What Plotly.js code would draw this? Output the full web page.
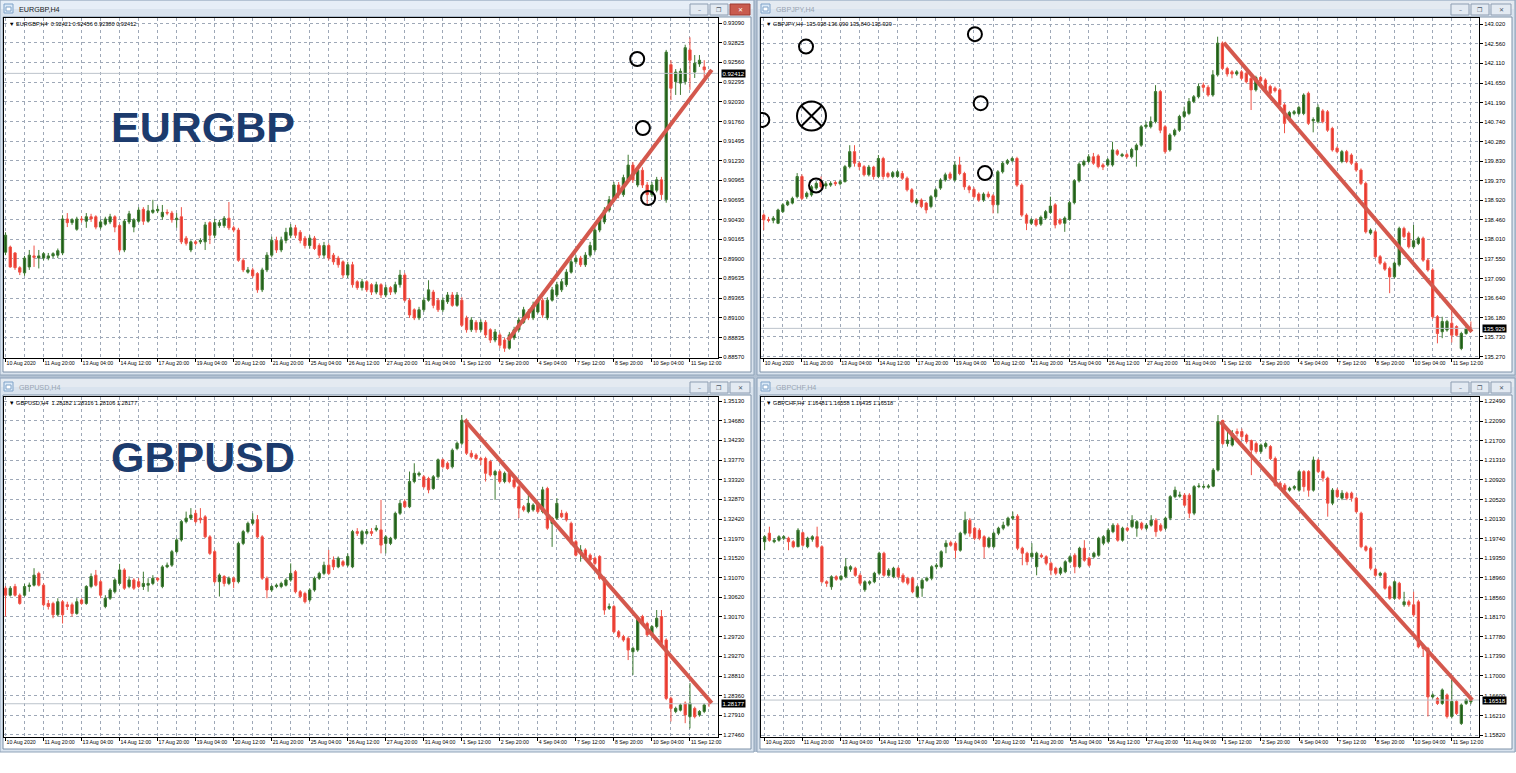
<!DOCTYPE html>
<html>
<head>
<meta charset="utf-8">
<script src="https://cdn.plot.ly/plotly-3.0.1.min.js"></script>
<style>
html,body{margin:0;padding:0;background:#fff;}
#chart{width:1516px;height:773px;}
</style>
</head>
<body>
<div id="chart"></div>
<script>
// ---------------- DATA ----------------
const timeLabels = ['10 Aug 2020','11 Aug 20:00','13 Aug 04:00','14 Aug 12:00','17 Aug 20:00','19 Aug 04:00','20 Aug 12:00','21 Aug 20:00','25 Aug 04:00','26 Aug 12:00','27 Aug 20:00','31 Aug 04:00','1 Sep 12:00','2 Sep 20:00','4 Sep 04:00','7 Sep 12:00','8 Sep 20:00','10 Sep 04:00','11 Sep 12:00'];
const labelBars = [0,8,16,24,32,40,48,56,64,72,80,88,96,104,112,120,128,136,144];

// EURGBP H4
const eurgbpOpen = [
0.8999,0.9006,0.8998,0.8978,0.8971,0.8979,0.8994,0.8991,0.8991,0.8991,
0.8994,0.8995,0.8998,0.9044,0.9039,0.9030,0.9044,0.9041,0.9047,0.9047,
0.9033,0.9037,0.9040,0.9047,0.9035,0.9002,0.9040,0.9033,0.9041,0.9057,
0.9041,0.9053,0.9055,0.9047,0.9053,0.9052,0.9043,0.9047,0.9018,0.9002,
0.9013,0.9013,0.9013,0.9039,0.9022,0.9035,0.9035,0.9045,0.9032,0.9029,
0.8988,0.8972,0.8975,0.8970,0.8948,0.8975,0.8995,0.9015,0.9002,0.9015,
0.9022,0.9032,0.9026,0.9018,0.9008,0.9018,0.9008,0.8995,0.9008,0.8995,
0.8991,0.8986,0.8968,0.8982,0.8959,0.8951,0.8959,0.8955,0.8945,0.8955,
0.8941,0.8951,0.8945,0.8955,0.8968,0.8934,0.8921,0.8910,0.8921,0.8934,
0.8945,0.8934,0.8921,0.8932,0.8941,0.8927,0.8934,0.8910,0.8894,0.8904,
0.8894,0.8904,0.8894,0.8880,0.8887,0.8880,0.8869,0.8883,0.8894,0.8904,
0.8918,0.8910,0.8918,0.8934,0.8910,0.8934,0.8941,0.8948,0.8955,0.8972,
0.8986,0.8991,0.8982,0.8995,0.9002,0.9029,0.9040,0.9056,0.9070,0.9090,
0.9077,0.9097,0.9117,0.9090,0.9110,0.9090,0.9077,0.9083,0.9097,0.9070,
0.9253,0.9230,0.9228,0.9230,0.9273,0.9243,0.9254,0.9250,0.92421];
const eurgbpHigh = [
0.9026,0.9008,0.8999,0.8980,0.8994,0.9002,0.9008,0.9002,0.8999,0.8998,
0.8999,0.9004,0.9049,0.9052,0.9045,0.9047,0.9048,0.9052,0.9051,0.9049,
0.9043,0.9047,0.9051,0.9049,0.9037,0.9044,0.9055,0.9045,0.9060,0.9060,
0.9063,0.9070,0.9062,0.9063,0.9057,0.9055,0.9052,0.9060,0.9021,0.9015,
0.9015,0.9018,0.9040,0.9041,0.9044,0.9043,0.9048,0.9067,0.9035,0.9032,
0.8991,0.8979,0.8978,0.8972,0.8978,0.8999,0.9020,0.9020,0.9020,0.9032,
0.9037,0.9036,0.9029,0.9021,0.9022,0.9021,0.9011,0.9013,0.9011,0.8998,
0.8994,0.8988,0.8986,0.8986,0.8961,0.8963,0.8961,0.8957,0.8959,0.8957,
0.8955,0.8953,0.8959,0.8975,0.8971,0.8937,0.8923,0.8925,0.8938,0.8961,
0.8948,0.8937,0.8938,0.8945,0.8945,0.8945,0.8938,0.8913,0.8911,0.8907,
0.8908,0.8907,0.8896,0.8895,0.8890,0.8883,0.8891,0.8898,0.8911,0.8925,
0.8922,0.8932,0.8938,0.8937,0.8938,0.8952,0.8959,0.8963,0.8976,0.8990,
0.8995,0.8994,0.8999,0.9013,0.9033,0.9047,0.9060,0.9075,0.9094,0.9094,
0.9104,0.9131,0.9121,0.9114,0.9114,0.9094,0.9094,0.9101,0.9101,0.9273,
0.9259,0.9247,0.9248,0.9280,0.9290,0.9266,0.9266,0.9259,0.92456];
const eurgbpLow = [
0.8995,0.8978,0.8975,0.8968,0.8967,0.8975,0.8979,0.8977,0.8988,0.8988,
0.8991,0.8991,0.8995,0.9033,0.9036,0.9028,0.9039,0.9032,0.9040,0.9030,
0.9030,0.9035,0.9037,0.9026,0.8999,0.8999,0.9037,0.9026,0.9039,0.9036,
0.9039,0.9051,0.9052,0.9043,0.9049,0.9039,0.9032,0.9010,0.9008,0.8999,
0.9008,0.9010,0.9002,0.9010,0.9018,0.9032,0.9032,0.9029,0.9026,0.8986,
0.8972,0.8970,0.8964,0.8944,0.8945,0.8972,0.8992,0.8998,0.8999,0.9011,
0.9018,0.9018,0.9011,0.9004,0.9004,0.9002,0.8991,0.8991,0.8988,0.8982,
0.8978,0.8964,0.8964,0.8951,0.8948,0.8947,0.8945,0.8941,0.8942,0.8937,
0.8938,0.8941,0.8942,0.8951,0.8932,0.8910,0.8907,0.8907,0.8918,0.8932,
0.8923,0.8918,0.8918,0.8929,0.8925,0.8925,0.8898,0.8890,0.8891,0.8890,
0.8891,0.8883,0.8876,0.8877,0.8869,0.8864,0.8867,0.8880,0.8891,0.8902,
0.8907,0.8907,0.8916,0.8910,0.8907,0.8932,0.8938,0.8945,0.8952,0.8970,
0.8983,0.8979,0.8979,0.8992,0.8999,0.9026,0.9037,0.9053,0.9067,0.9072,
0.9074,0.9094,0.9093,0.9087,0.9086,0.9063,0.9074,0.9080,0.9070,0.9066,
0.9205,0.9212,0.9212,0.9226,0.9219,0.9235,0.9250,0.9236,0.92380];
const eurgbpClose = [
0.9022,0.8979,0.8978,0.8972,0.8991,0.8995,0.8992,0.8994,0.8997,0.8994,
0.8997,0.9001,0.9044,0.9039,0.9043,0.9044,0.9043,0.9047,0.9044,0.9033,
0.9040,0.9044,0.9047,0.9033,0.9002,0.9041,0.9051,0.9043,0.9056,0.9041,
0.9055,0.9056,0.9057,0.9053,0.9052,0.9043,0.9045,0.9013,0.9011,0.9013,
0.9011,0.9015,0.9036,0.9022,0.9039,0.9039,0.9045,0.9032,0.9029,0.8988,
0.8975,0.8975,0.8967,0.8948,0.8975,0.8995,0.9015,0.9002,0.9015,0.9026,
0.9032,0.9022,0.9015,0.9008,0.9018,0.9004,0.8995,0.9008,0.8991,0.8986,
0.8982,0.8968,0.8982,0.8955,0.8951,0.8959,0.8948,0.8945,0.8955,0.8941,
0.8951,0.8945,0.8955,0.8968,0.8934,0.8914,0.8910,0.8921,0.8934,0.8948,
0.8927,0.8921,0.8934,0.8941,0.8927,0.8941,0.8900,0.8894,0.8907,0.8894,
0.8904,0.8887,0.8880,0.8891,0.8873,0.8869,0.8887,0.8894,0.8907,0.8921,
0.8910,0.8927,0.8934,0.8914,0.8934,0.8948,0.8955,0.8959,0.8972,0.8986,
0.8991,0.8982,0.8995,0.9008,0.9029,0.9043,0.9056,0.9070,0.9090,0.9077,
0.9100,0.9117,0.9097,0.9110,0.9090,0.9077,0.9090,0.9097,0.9077,0.9270,
0.9221,0.9243,0.9244,0.9276,0.9259,0.9255,0.9259,0.9246,0.92412];

// GBPJPY H4
const gbpjpyOpen = [
138.57,138.46,138.45,138.38,138.65,138.81,138.85,139.00,139.47,139.00,
139.04,139.20,139.35,139.25,139.27,139.33,139.30,139.35,139.70,140.05,
139.78,139.70,139.51,139.69,139.47,139.89,139.54,139.47,139.47,139.54,
139.43,139.16,138.85,138.92,138.85,138.77,139.00,139.20,139.39,139.53,
139.39,139.74,139.54,139.23,139.17,139.06,138.92,139.06,139.02,138.81,
139.58,139.78,139.84,139.89,139.27,138.57,138.38,138.46,138.36,138.50,
138.63,138.81,138.46,138.38,138.47,138.86,139.37,139.74,139.82,139.93,
139.95,139.74,139.74,139.74,140.07,139.95,139.98,139.93,140.09,140.20,
140.63,140.63,140.75,141.45,140.63,140.09,140.44,140.55,140.87,140.94,
141.22,141.33,141.60,141.55,141.37,141.84,142.58,141.99,141.91,141.86,
141.91,141.88,141.76,141.49,141.78,141.72,141.57,141.53,141.49,141.14,
140.79,140.94,140.94,140.94,141.41,140.77,140.75,141.00,140.98,140.59,
140.13,139.82,140.05,139.97,139.78,139.62,139.31,138.15,138.18,137.60,
137.45,137.33,137.13,137.41,138.26,138.15,137.83,137.91,138.03,137.52,
137.29,136.20,135.85,135.89,136.05,135.97,135.46,135.81,135.938];
const gbpjpyHigh = [
138.61,138.53,138.55,138.72,138.85,138.92,139.00,139.55,139.52,139.12,
139.27,139.36,139.47,139.36,139.36,139.37,139.40,139.74,140.20,140.20,
139.82,139.74,139.74,139.72,139.97,139.93,139.58,139.60,139.62,139.60,
139.47,139.20,138.96,138.96,138.88,139.04,139.20,139.43,139.56,139.58,
139.82,139.93,139.58,139.27,139.22,139.10,139.10,139.12,139.06,139.62,
139.82,139.88,139.93,139.93,139.31,138.61,138.50,138.50,138.56,138.69,
139.00,138.85,138.50,138.54,138.90,139.41,139.80,139.86,139.99,140.02,
139.99,139.78,139.90,140.28,140.11,140.02,140.02,140.14,140.24,140.67,
140.75,140.87,141.60,141.49,140.67,140.48,140.59,140.91,141.10,141.30,
141.37,141.64,141.66,141.60,141.95,142.73,142.62,142.03,141.95,141.95,
141.95,141.92,141.80,141.82,141.82,141.76,141.61,141.57,141.53,141.18,
141.00,141.02,141.12,141.41,141.45,140.85,141.15,141.04,141.02,140.63,
140.17,140.09,140.09,140.01,139.82,139.66,139.35,138.26,138.22,137.64,
137.49,137.37,137.49,138.30,138.30,138.19,138.34,138.07,138.07,137.56,
137.33,136.24,136.20,136.13,136.45,136.00,135.85,135.97,136.090];
const gbpjpyLow = [
138.22,138.40,138.38,138.36,138.62,138.78,138.82,138.96,138.92,138.95,
139.00,139.16,139.18,139.18,139.23,139.25,139.26,139.33,139.66,139.70,
139.62,139.47,139.47,139.40,139.43,139.40,139.43,139.43,139.44,139.39,
139.12,138.85,138.81,138.73,138.61,138.73,138.96,139.16,139.35,139.39,
139.35,139.50,139.16,139.08,138.96,138.88,138.88,138.96,138.61,138.61,
139.54,139.74,139.80,139.23,138.53,138.22,138.34,138.30,138.32,138.46,
138.60,138.26,138.34,138.18,138.44,138.82,139.33,139.70,139.78,139.74,
139.66,139.62,139.70,139.70,139.95,139.92,139.89,139.89,139.70,140.16,
140.59,140.59,140.71,140.48,140.00,140.05,140.40,140.51,140.83,140.90,
141.18,141.29,141.45,141.33,141.33,141.80,141.95,141.80,141.76,141.82,
141.72,141.64,141.02,141.45,141.64,141.41,141.37,141.43,141.10,140.48,
140.75,140.90,140.90,140.90,140.67,140.50,140.71,140.71,140.51,140.05,
140.01,139.78,139.78,139.74,139.58,139.27,138.14,138.11,137.56,137.41,
137.27,136.75,137.09,137.37,138.03,137.79,137.79,137.87,137.48,137.25,
136.15,135.58,135.70,135.85,135.60,135.74,135.42,135.78,135.840];
const gbpjpyClose = [
138.46,138.45,138.50,138.69,138.81,138.88,138.96,139.47,138.96,139.08,
139.23,139.31,139.23,139.30,139.31,139.30,139.35,139.70,140.05,139.78,
139.70,139.51,139.69,139.47,139.89,139.47,139.47,139.56,139.58,139.43,
139.16,138.88,138.92,138.77,138.69,139.00,139.16,139.39,139.51,139.43,
139.74,139.54,139.23,139.16,139.00,138.92,139.06,139.00,138.81,139.58,
139.78,139.84,139.89,139.27,138.57,138.38,138.46,138.34,138.52,138.65,
138.78,138.34,138.38,138.50,138.86,139.37,139.76,139.82,139.93,139.78,
139.70,139.69,139.86,140.09,139.99,139.98,139.93,140.10,140.20,140.63,
140.67,140.75,141.45,140.55,140.05,140.44,140.55,140.87,140.98,141.22,
141.33,141.57,141.55,141.37,141.84,142.58,141.99,141.86,141.86,141.91,
141.76,141.68,141.49,141.78,141.70,141.45,141.41,141.47,141.14,140.71,
140.96,140.98,141.08,141.37,140.71,140.80,141.08,140.75,140.55,140.09,
140.05,140.05,139.82,139.78,139.62,139.31,138.18,138.22,137.60,137.45,
137.31,137.13,137.45,138.26,138.07,137.83,137.97,138.03,137.52,137.29,
136.20,135.81,136.09,136.09,135.77,135.77,135.81,135.93,135.929];

// GBPUSD H4
const gbpusdOpen = [
1.3083,1.3067,1.3087,1.3067,1.3067,1.3087,1.3090,1.3117,1.3090,1.3048,
1.3048,1.3022,1.3052,1.3045,1.3045,1.3025,1.3056,1.3048,1.3087,1.3113,
1.3098,1.3041,1.3060,1.3075,1.3094,1.3125,1.3087,1.3102,1.3098,1.3087,
1.3090,1.3094,1.3106,1.3087,1.3132,1.3136,1.3167,1.3194,1.3236,1.3244,
1.3255,1.3244,1.3247,1.3201,1.3167,1.3098,1.3110,1.3094,1.3106,1.3098,
1.3186,1.3213,1.3232,1.3240,1.3201,1.3106,1.3079,1.3087,1.3087,1.3090,
1.3102,1.3121,1.3075,1.3071,1.3056,1.3079,1.3106,1.3117,1.3136,1.3148,
1.3132,1.3144,1.3136,1.3132,1.3213,1.3186,1.3209,1.3213,1.3217,1.3217,
1.3186,1.3186,1.3198,1.3255,1.3282,1.3270,1.3328,1.3343,1.3339,1.3335,
1.3312,1.3339,1.3378,1.3370,1.3362,1.3404,1.3416,1.3469,1.3393,1.3389,
1.3381,1.3381,1.3374,1.3343,1.3351,1.3328,1.3347,1.3332,1.3316,1.3270,
1.3259,1.3263,1.3274,1.3259,1.3312,1.3232,1.3244,1.3255,1.3255,1.3232,
1.3190,1.3163,1.3171,1.3159,1.3152,1.3156,1.3106,1.3037,1.3041,1.2983,
1.2972,1.2968,1.2937,1.2941,1.3018,1.3002,1.2976,1.2995,1.3018,1.2964,
1.2830,1.2800,1.2803,1.2819,1.2788,1.2807,1.2792,1.2800,1.28182];
const gbpusdHigh = [
1.3088,1.3088,1.3093,1.3071,1.3093,1.3096,1.3129,1.3121,1.3094,1.3056,
1.3052,1.3060,1.3056,1.3052,1.3050,1.3060,1.3060,1.3090,1.3117,1.3125,
1.3102,1.3067,1.3083,1.3106,1.3139,1.3129,1.3110,1.3106,1.3106,1.3121,
1.3106,1.3113,1.3108,1.3136,1.3142,1.3171,1.3198,1.3240,1.3259,1.3267,
1.3263,1.3267,1.3251,1.3205,1.3171,1.3117,1.3113,1.3110,1.3110,1.3190,
1.3217,1.3236,1.3255,1.3251,1.3205,1.3110,1.3090,1.3094,1.3098,1.3106,
1.3140,1.3125,1.3079,1.3075,1.3083,1.3110,1.3121,1.3144,1.3171,1.3156,
1.3156,1.3148,1.3163,1.3217,1.3221,1.3217,1.3219,1.3221,1.3228,1.3286,
1.3205,1.3201,1.3259,1.3286,1.3287,1.3351,1.3370,1.3351,1.3343,1.3339,
1.3343,1.3381,1.3381,1.3374,1.3404,1.3420,1.3481,1.3473,1.3400,1.3393,
1.3385,1.3385,1.3378,1.3355,1.3355,1.3351,1.3351,1.3335,1.3320,1.3274,
1.3297,1.3278,1.3278,1.3316,1.3316,1.3247,1.3290,1.3263,1.3259,1.3236,
1.3194,1.3182,1.3175,1.3163,1.3156,1.3159,1.3110,1.3048,1.3045,1.2987,
1.2976,1.2972,1.2949,1.3018,1.3022,1.3006,1.2998,1.3033,1.3033,1.2968,
1.2834,1.2811,1.2819,1.2823,1.2865,1.2811,1.2803,1.2819,1.28316];
const gbpusdLow = [
1.3018,1.3064,1.3064,1.3045,1.3064,1.3075,1.3087,1.3087,1.3041,1.3034,
1.3014,1.3018,1.3002,1.3033,1.3018,1.3022,1.3045,1.3045,1.3083,1.3087,
1.3060,1.3037,1.3056,1.3071,1.3090,1.3079,1.3083,1.3079,1.3083,1.3079,
1.3075,1.3090,1.3098,1.3083,1.3129,1.3132,1.3163,1.3190,1.3232,1.3240,
1.3232,1.3232,1.3198,1.3159,1.3094,1.3064,1.3087,1.3090,1.3083,1.3094,
1.3182,1.3209,1.3228,1.3198,1.3102,1.3060,1.3075,1.3083,1.3083,1.3087,
1.3098,1.3071,1.3060,1.3048,1.3052,1.3075,1.3102,1.3113,1.3113,1.3125,
1.3129,1.3132,1.3132,1.3129,1.3203,1.3182,1.3205,1.3203,1.3213,1.3163,
1.3163,1.3182,1.3194,1.3251,1.3267,1.3267,1.3324,1.3339,1.3312,1.3301,
1.3309,1.3335,1.3358,1.3355,1.3358,1.3400,1.3412,1.3389,1.3381,1.3378,
1.3366,1.3328,1.3339,1.3286,1.3324,1.3324,1.3324,1.3312,1.3244,1.3259,
1.3255,1.3259,1.3255,1.3255,1.3217,1.3178,1.3240,1.3244,1.3236,1.3182,
1.3156,1.3144,1.3152,1.3144,1.3136,1.3102,1.3022,1.3033,1.2980,1.2968,
1.2960,1.2918,1.2884,1.2937,1.2998,1.2972,1.2972,1.2991,1.2953,1.2826,
1.2777,1.2796,1.2800,1.2773,1.2761,1.2784,1.2788,1.2796,1.28106];
const gbpusdClose = [
1.3067,1.3083,1.3067,1.3048,1.3087,1.3090,1.3113,1.3090,1.3045,1.3041,
1.3022,1.3052,1.3022,1.3041,1.3025,1.3052,1.3048,1.3087,1.3110,1.3090,
1.3067,1.3060,1.3079,1.3102,1.3125,1.3083,1.3102,1.3083,1.3087,1.3094,
1.3094,1.3106,1.3102,1.3132,1.3136,1.3167,1.3194,1.3236,1.3244,1.3251,
1.3236,1.3240,1.3201,1.3163,1.3098,1.3113,1.3094,1.3106,1.3098,1.3186,
1.3213,1.3232,1.3240,1.3201,1.3106,1.3079,1.3087,1.3090,1.3094,1.3102,
1.3117,1.3075,1.3064,1.3052,1.3079,1.3106,1.3117,1.3136,1.3117,1.3132,
1.3152,1.3136,1.3156,1.3213,1.3209,1.3213,1.3213,1.3209,1.3221,1.3182,
1.3201,1.3198,1.3255,1.3278,1.3270,1.3328,1.3347,1.3347,1.3316,1.3309,
1.3339,1.3378,1.3362,1.3358,1.3400,1.3416,1.3469,1.3393,1.3385,1.3381,
1.3378,1.3347,1.3343,1.3351,1.3328,1.3347,1.3328,1.3316,1.3267,1.3263,
1.3278,1.3274,1.3259,1.3309,1.3221,1.3244,1.3278,1.3247,1.3240,1.3186,
1.3159,1.3171,1.3156,1.3148,1.3140,1.3106,1.3033,1.3041,1.2983,1.2972,
1.2964,1.2941,1.2945,1.3014,1.3002,1.2976,1.2995,1.3014,1.2956,1.2830,
1.2807,1.2807,1.2815,1.2792,1.2819,1.2788,1.2800,1.2815,1.28177];

// GBPCHF H4
const gbpchfOpen = [
1.1968,1.1985,1.1968,1.1971,1.1975,1.1975,1.1968,1.1958,1.1986,1.1958,
1.1973,1.1978,1.1958,1.1888,1.1878,1.1898,1.1893,1.1898,1.1913,1.1915,
1.1901,1.1872,1.1885,1.1888,1.1905,1.1945,1.1901,1.1898,1.1915,1.1901,
1.1895,1.1895,1.1858,1.1875,1.1891,1.1895,1.1918,1.1918,1.1958,1.1966,
1.1965,1.1951,1.1985,1.2011,1.1995,1.1991,1.1978,1.1958,1.1958,1.1985,
1.1995,1.2001,1.2015,1.2019,1.1955,1.1945,1.1938,1.1918,1.1941,1.1938,
1.1925,1.1915,1.1905,1.1908,1.1928,1.1941,1.1918,1.1955,1.1935,1.1938,
1.1941,1.1965,1.1968,1.1988,1.2001,1.1971,1.1995,1.1998,1.1995,1.2005,
1.1995,1.2001,1.2011,1.2001,1.1995,1.2015,1.2058,1.2059,1.2061,1.2061,
1.2025,1.2078,1.2077,1.2077,1.2079,1.2111,1.2210,1.2164,1.2161,1.2188,
1.2188,1.2181,1.2170,1.2164,1.2148,1.2158,1.2158,1.2134,1.2085,1.2081,
1.2071,1.2075,1.2071,1.2108,1.2108,1.2071,1.2131,1.2108,1.2095,1.2045,
1.2071,1.2055,1.2065,1.2065,1.2055,1.2025,1.1958,1.1955,1.1913,1.1901,
1.1905,1.1878,1.1855,1.1885,1.1842,1.1848,1.1842,1.1848,1.1758,1.1755,
1.1658,1.1655,1.1645,1.1662,1.1619,1.1649,1.1605,1.1645,1.16481];
const gbpchfHigh = [
1.1981,1.1998,1.1975,1.1981,1.1981,1.1978,1.1971,1.1995,1.1988,1.1978,
1.1981,1.1998,1.1961,1.1891,1.1901,1.1901,1.1902,1.1935,1.1921,1.1918,
1.1905,1.1891,1.1891,1.1908,1.1948,1.1948,1.1915,1.1918,1.1918,1.1905,
1.1898,1.1898,1.1881,1.1895,1.1898,1.1921,1.1925,1.1951,1.1971,1.1970,
1.1968,1.1988,1.2028,1.2015,1.1998,1.1995,1.1981,1.1978,1.1988,1.1998,
1.2008,1.2018,1.2028,1.2023,1.1958,1.1948,1.1965,1.1948,1.1945,1.1941,
1.1928,1.1918,1.1918,1.1931,1.1941,1.1945,1.1958,1.1971,1.1938,1.1948,
1.1978,1.1981,1.1995,1.2005,1.2005,1.1998,1.1998,1.2021,1.2011,1.2008,
1.2005,1.2021,1.2015,1.2005,1.2018,1.2061,1.2078,1.2068,1.2065,1.2065,
1.2081,1.2085,1.2083,1.2083,1.2115,1.2221,1.2212,1.2191,1.2191,1.2194,
1.2194,1.2184,1.2172,1.2168,1.2164,1.2168,1.2161,1.2138,1.2088,1.2085,
1.2078,1.2081,1.2111,1.2111,1.2111,1.2138,1.2134,1.2111,1.2098,1.2075,
1.2075,1.2071,1.2068,1.2068,1.2058,1.2028,1.1961,1.1958,1.1916,1.1908,
1.1908,1.1881,1.1891,1.1888,1.1868,1.1852,1.1868,1.1852,1.1761,1.1758,
1.1665,1.1658,1.1675,1.1665,1.1695,1.1652,1.1645,1.1655,1.16558];
const gbpchfLow = [
1.1951,1.1968,1.1965,1.1968,1.1971,1.1951,1.1955,1.1957,1.1958,1.1955,
1.1968,1.1955,1.1885,1.1878,1.1872,1.1890,1.1890,1.1895,1.1908,1.1898,
1.1881,1.1868,1.1881,1.1885,1.1901,1.1898,1.1898,1.1895,1.1895,1.1885,
1.1881,1.1865,1.1855,1.1858,1.1888,1.1891,1.1913,1.1915,1.1945,1.1958,
1.1935,1.1948,1.1981,1.1978,1.1971,1.1971,1.1935,1.1955,1.1955,1.1981,
1.1991,1.1998,1.2011,1.1951,1.1921,1.1921,1.1935,1.1901,1.1935,1.1921,
1.1901,1.1901,1.1901,1.1905,1.1925,1.1905,1.1915,1.1928,1.1918,1.1935,
1.1938,1.1961,1.1965,1.1985,1.1968,1.1968,1.1988,1.1995,1.1978,1.1991,
1.1991,1.1998,1.1978,1.1988,1.1991,1.2011,1.2055,1.2056,1.2038,1.2015,
1.2021,1.2075,1.2074,1.2074,1.2077,1.2108,1.2161,1.2158,1.2158,1.2178,
1.2171,1.2164,1.2101,1.2144,1.2144,1.2154,1.2131,1.2078,1.2075,1.2068,
1.2068,1.2071,1.2068,1.2068,1.2058,1.2068,1.2105,1.2088,1.2018,1.2041,
1.2055,1.2051,1.2051,1.2048,1.2025,1.1955,1.1948,1.1911,1.1898,1.1898,
1.1872,1.1852,1.1852,1.1852,1.1838,1.1838,1.1818,1.1755,1.1738,1.1619,
1.1655,1.1642,1.1642,1.1615,1.1615,1.1622,1.1602,1.1642,1.16435];
const gbpchfClose = [
1.1978,1.1971,1.1971,1.1978,1.1978,1.1968,1.1958,1.1991,1.1961,1.1975,
1.1978,1.1958,1.1888,1.1885,1.1898,1.1893,1.1899,1.1918,1.1918,1.1901,
1.1885,1.1888,1.1888,1.1905,1.1945,1.1901,1.1911,1.1915,1.1898,1.1888,
1.1885,1.1868,1.1878,1.1891,1.1895,1.1918,1.1921,1.1948,1.1965,1.1961,
1.1951,1.1985,1.2011,1.1985,1.1975,1.1975,1.1958,1.1975,1.1985,1.1995,
1.2001,1.2015,1.2018,1.1955,1.1945,1.1928,1.1945,1.1945,1.1938,1.1925,
1.1911,1.1905,1.1915,1.1928,1.1938,1.1918,1.1955,1.1931,1.1921,1.1945,
1.1975,1.1978,1.1991,1.2001,1.1971,1.1995,1.1991,1.2011,1.2008,1.1995,
1.2001,1.2011,1.1988,1.1991,1.2015,1.2058,1.2071,1.2061,1.2041,1.2025,
1.2078,1.2079,1.2078,1.2079,1.2111,1.2208,1.2164,1.2171,1.2184,1.2184,
1.2178,1.2168,1.2151,1.2148,1.2161,1.2164,1.2134,1.2081,1.2078,1.2071,
1.2075,1.2078,1.2108,1.2078,1.2071,1.2131,1.2108,1.2095,1.2045,1.2071,
1.2058,1.2065,1.2055,1.2055,1.2028,1.1958,1.1951,1.1915,1.1901,1.1905,
1.1875,1.1855,1.1888,1.1855,1.1848,1.1842,1.1822,1.1758,1.1755,1.1658,
1.1662,1.1645,1.1672,1.1619,1.1649,1.1625,1.1642,1.1652,1.16518];

// price axis ticks
const eurgbpTicks = [0.93090,0.92825,0.92560,0.92295,0.92030,0.91760,0.91495,0.91230,0.90965,0.90695,0.90430,0.90165,0.89900,0.89635,0.89365,0.89100,0.88835,0.88570];
const gbpjpyTicks = [143.020,142.560,142.110,141.650,141.190,140.740,140.280,139.830,139.370,138.920,138.460,138.010,137.550,137.090,136.640,136.180,135.730,135.270];
const gbpusdTicks = [1.35130,1.34680,1.34230,1.33770,1.33320,1.32870,1.32420,1.31970,1.31520,1.31070,1.30620,1.30170,1.29720,1.29270,1.28810,1.28360,1.27910,1.27460];
const gbpchfTicks = [1.22490,1.22090,1.21700,1.21310,1.20920,1.20520,1.20130,1.19740,1.19350,1.18960,1.18560,1.18170,1.17780,1.17390,1.17000,1.16600,1.16210,1.15820];

// drawn trend lines (bar index, price)
const eurgbpTrendBar = [105.7, 148.6];
const eurgbpTrendPrice = [0.8880, 0.9246];
const gbpjpyTrendBar = [96.3, 148.2];
const gbpjpyTrendPrice = [142.59, 135.85];
const gbpusdTrendBar = [96.6, 148.6];
const gbpusdTrendPrice = [1.34694, 1.28195];
const gbpchfTrendBar = [95.5, 148.3];
const gbpchfTrendPrice = [1.22077, 1.16519];

// drawn circle marks (bar index, price)
const eurgbpCircleBar = [132.9, 134.1, 135.2];
const eurgbpCirclePrice = [0.92607, 0.91672, 0.90724];
const gbpjpyCircleBar = [8.85, 44.2, 45.4, -0.3, 10.95, 46.3];
const gbpjpyCirclePrice = [142.50, 142.79, 141.18, 140.79, 139.26, 139.55];
const gbpjpyCrossBar = [10.0];
const gbpjpyCrossPrice = [140.88];

const bigLabels = ['EURGBP', 'GBPUSD'];

// ---------------- LAYOUT HELPERS ----------------
const W = 1516, H = 773;
const px = v => v / W;
const py = v => 1 - v / H;
const GRID = '#9ea8b7';
const FONT = 'Liberation Sans, Arial, sans-serif';

const panels = [
  {sym:'EURGBP', tf:'H4', O:eurgbpOpen, Hh:eurgbpHigh, L:eurgbpLow, C:eurgbpClose, ticks:eurgbpTicks, dec:5,
   win:[0,0,754,375], plot:[4,18,718,358], xr:[-0.32,149.9], yr:[0.88557,0.93162], active:true,
   tb:eurgbpTrendBar, tp:eurgbpTrendPrice},
  {sym:'GBPJPY', tf:'H4', O:gbpjpyOpen, Hh:gbpjpyHigh, L:gbpjpyLow, C:gbpjpyClose, ticks:gbpjpyTicks, dec:3,
   win:[757,0,1515,375], plot:[761,18,1479,358], xr:[-0.57,149.7], yr:[135.238,143.166], active:false,
   tb:gbpjpyTrendBar, tp:gbpjpyTrendPrice},
  {sym:'GBPUSD', tf:'H4', O:gbpusdOpen, Hh:gbpusdHigh, L:gbpusdLow, C:gbpusdClose, ticks:gbpusdTicks, dec:5,
   win:[0,378,754,752], plot:[4,397,718,737], xr:[-0.32,149.9], yr:[1.27413,1.35222], active:false,
   tb:gbpusdTrendBar, tp:gbpusdTrendPrice},
  {sym:'GBPCHF', tf:'H4', O:gbpchfOpen, Hh:gbpchfHigh, L:gbpchfLow, C:gbpchfClose, ticks:gbpchfTicks, dec:5,
   win:[757,378,1515,752], plot:[761,397,1479,737], xr:[-0.76,149.7], yr:[1.15780,1.22570], active:false,
   tb:gbpchfTrendBar, tp:gbpchfTrendPrice}
];

const traces = [];
const shapes = [];
const annotations = [];
const layout = {
  width: W, height: H,
  margin: {l:0, r:0, t:0, b:0},
  paper_bgcolor: '#ffffff',
  plot_bgcolor: 'rgba(0,0,0,0)',
  showlegend: false,
  hovermode: false,
  boxgap: 0.32,
  font: {family: FONT, color: '#000'}
};

function rect(x0, y0, x1, y1, fill, line, lw) {
  shapes.push({type:'rect', xref:'paper', yref:'paper', x0:px(x0), x1:px(x1), y0:py(y1), y1:py(y0),
    fillcolor: fill, line:{color: line || fill, width: lw === undefined ? 1 : lw}, layer:'below'});
}

// MDI background
rect(0, 0, 1516, 752, '#b3c2d3', '#b3c2d3', 0);

panels.forEach((p, k) => {
  const n = k === 0 ? '' : String(k + 1);
  const [wx0, wy0, wx1, wy1] = p.win;
  rect(wx0, wy0, wx1, wy1, '#d9e3ee', '#8fa3b9', 1);
  rect(wx0 + 1, wy0 + 1, wx1 - 1, wy0 + 9, p.active ? '#e6eef7' : '#e4eaf1', null, 0);
  rect(wx0 + 3, wy0 + 17, wx1 - 3, wy1 - 3, '#ffffff', '#7f92a8', 1);
  rect(wx0 + 4, wy0 + 4, wx0 + 13, wy0 + 13, '#dbe9f7', '#7ea2c8', 1);
  rect(wx0 + 6, wy0 + 7, wx0 + 11, wy0 + 11, '#ffffff', '#7ea2c8', 1);
  const bx = wx1 - 64;
  const btn = [[bx, bx + 18, '–'], [bx + 20, bx + 38, '❐'], [bx + 40, bx + 60, '✕']];
  btn.forEach((b, j) => {
    const isClose = j === 2 && p.active;
    rect(b[0], wy0 + 4, b[1], wy0 + 15, isClose ? '#c95b4e' : '#e3eaf2', isClose ? '#9c3b30' : '#8d9db1', 1);
    annotations.push({xref:'paper', yref:'paper', x:px((b[0] + b[1]) / 2), y:py(wy0 + 9.5), xanchor:'center', yanchor:'middle',
      text:b[2], showarrow:false, font:{family:'DejaVu Sans', size:6, color: isClose ? '#ffffff' : '#4a5666'}});
  });
  annotations.push({xref:'paper', yref:'paper', x:px(wx0 + 17), y:py(wy0 + 9), xanchor:'left', yanchor:'middle',
    text: p.sym + ',' + p.tf, showarrow:false, font:{family:FONT, size:7.2, color: p.active ? '#1b1b1b' : '#98a3b1'}});
});

panels.forEach((p, k) => {
  const n = k === 0 ? '' : String(k + 1);
  const xa = 'x' + n, ya = 'y' + n;
  const [qx0, qy0, qx1, qy1] = p.plot;
  const xs = p.C.map((_, i) => i);
  const last = p.C.length - 1;

  // current price line (from last close)
  traces.push({
    type:'scatter', mode:'lines', x:[p.xr[0], p.xr[1]], y:[p.C[last], p.C[last]], xaxis:xa, yaxis:ya, hoverinfo:'skip',
    line:{color:'#bcc3cb', width:1}
  });

  traces.push({
    type:'candlestick', x:xs, open:p.O, high:p.Hh, low:p.L, close:p.C,
    xaxis:xa, yaxis:ya, hoverinfo:'skip', whiskerwidth:0,
    increasing:{line:{color:'#3d7a31', width:1}, fillcolor:'#1f5d18'},
    decreasing:{line:{color:'#ef5247', width:1}, fillcolor:'#e8372c'}
  });

  traces.push({
    type:'scatter', mode:'lines', x:p.tb, y:p.tp, xaxis:xa, yaxis:ya, hoverinfo:'skip',
    line:{color:'#d4584d', width:4}
  });

  annotations.push({xref:'paper', yref:ya, x:px(qx1 + 3), y:p.C[last], xanchor:'left', yanchor:'middle',
    text:p.C[last].toFixed(p.dec), showarrow:false, bgcolor:'#000000', borderpad:0.5,
    font:{family:FONT, size:6, color:'#ffffff'}});
  annotations.push({xref:'paper', yref:'paper', x:px(qx0 + 3), y:py(qy0 + 6), xanchor:'left', yanchor:'middle',
    text:'▼ ' + p.sym + ',' + p.tf + '  ' + [p.O[last], p.Hh[last], p.L[last], p.C[last]].map(v => v.toFixed(p.dec)).join(' '),
    showarrow:false, font:{family:FONT, size:5.6, color:'#000'}});

  layout['xaxis' + n] = {
    domain:[px(qx0), px(qx1)], range:p.xr, anchor:ya, fixedrange:true,
    tickmode:'array', tickvals:labelBars, ticktext:timeLabels, tickangle:0,
    ticklabelposition:'outside right', ticks:'outside', ticklen:3, tickcolor:'#000', tickwidth:1,
    showgrid:true, gridcolor:GRID, griddash:'dot', gridwidth:1,
    minor:{tickmode:'linear', tick0:0, dtick:4, showgrid:true, gridcolor:GRID, griddash:'dot', gridwidth:1, ticks:''},
    showline:true, mirror:true, linecolor:'#000', linewidth:1, zeroline:false,
    rangeslider:{visible:false},
    tickfont:{family:FONT, size:5.2, color:'#000'}
  };
  layout['yaxis' + n] = {
    domain:[py(qy1), py(qy0)], range:p.yr, anchor:xa, side:'right', fixedrange:true,
    tickmode:'array', tickvals:p.ticks, tickformat:'.' + p.dec + 'f',
    ticks:'outside', ticklen:3, tickcolor:'#000', tickwidth:1,
    showgrid:true, gridcolor:GRID, griddash:'dot', gridwidth:1,
    showline:true, mirror:true, linecolor:'#000', linewidth:1, zeroline:false,
    tickfont:{family:FONT, size:5.8, color:'#000'}
  };
});

// drawn circle marks
traces.push({type:'scatter', mode:'markers', x:eurgbpCircleBar, y:eurgbpCirclePrice, xaxis:'x', yaxis:'y', hoverinfo:'skip',
  marker:{symbol:'circle-open', size:14, color:'#000', line:{width:2, color:'#000'}}});
traces.push({type:'scatter', mode:'markers', x:gbpjpyCircleBar, y:gbpjpyCirclePrice, xaxis:'x2', yaxis:'y2', hoverinfo:'skip',
  marker:{symbol:'circle-open', size:14, color:'#000', line:{width:2, color:'#000'}}});
traces.push({type:'scatter', mode:'markers', x:gbpjpyCrossBar, y:gbpjpyCrossPrice, xaxis:'x2', yaxis:'y2', hoverinfo:'skip',
  marker:{symbol:'circle-x-open', size:29, color:'#000', line:{width:2, color:'#000'}}});

// big symbol labels
annotations.push({xref:'paper', yref:'paper', x:px(203), y:py(127), xanchor:'center', yanchor:'middle', showarrow:false,
  text:bigLabels[0], font:{family:FONT, size:43, weight:'bold', color:'#1c3b6d'}});
annotations.push({xref:'paper', yref:'paper', x:px(203), y:py(457), xanchor:'center', yanchor:'middle', showarrow:false,
  text:bigLabels[1], font:{family:FONT, size:43, weight:'bold', color:'#1c3b6d'}});

layout.shapes = shapes;
layout.annotations = annotations;

Plotly.newPlot('chart', traces, layout, {displayModeBar:false, staticPlot:true});
</script>
</body>
</html>
